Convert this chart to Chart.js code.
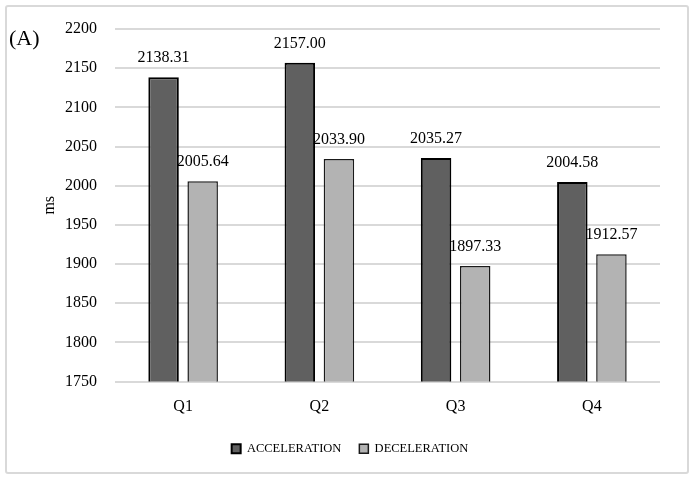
<!DOCTYPE html>
<html lang="en">
  <head>
    <meta charset="UTF-8" />
    <style>
      html, body { margin: 0; padding: 0; background: #fff; }
      #wrap { position: relative; width: 692px; height: 480px; }
      #frame {
        position: absolute; left: 5px; top: 5px; width: 680px; height: 465px;
        border: 2px solid #d9d9d9; border-radius: 3px; pointer-events: none;
      }
    </style>
  </head>
  <body>
    <div id="wrap">
      <canvas id="myChart" width="692" height="480"></canvas>
      <div id="frame"></div>
    </div>
    <script src="https://cdn.jsdelivr.net/npm/chart.js@4.4.0/dist/chart.umd.min.js"></script>

    <script>
      var categories = ["Q1", "Q2", "Q3", "Q4"];
      var acceleration = [2138.31, 2157.0, 2035.27, 2004.58];
      var deceleration = [2005.64, 2033.9, 1897.33, 1912.57];
      var yTicks = [1750, 1800, 1850, 1900, 1950, 2000, 2050, 2100, 2150, 2200];

      var serif = "'Liberation Serif', 'DejaVu Serif', serif";

      // value labels above bars, plus "(A)" and the "ms" axis title
      var extras = {
        id: "extras",
        afterLayout: function (chart) {
          // center the legend on the whole canvas, not just the padded box
          chart.legend.left = 8;
          chart.legend.right = 692;
          chart.legend.width = 684;
        },
        afterDatasetsDraw: function (chart) {
          var ctx = chart.ctx;
          ctx.save();
          ctx.fillStyle = "#000";
          ctx.font = "16px " + serif;
          ctx.textAlign = "center";
          ctx.textBaseline = "alphabetic";
          chart.data.datasets.forEach(function (ds, i) {
            chart.getDatasetMeta(i).data.forEach(function (bar, j) {
              ctx.fillText(ds.data[j].toFixed(2), bar.x, bar.y - 15);
            });
          });

          ctx.textAlign = "left";
          ctx.font = "22px " + serif;
          ctx.fillText("(A)", 9, 45);

          ctx.font = "16px " + serif;
          ctx.translate(54, (chart.chartArea.top + chart.chartArea.bottom) / 2);
          ctx.rotate(-Math.PI / 2);
          ctx.textAlign = "center";
          ctx.fillText("ms", 0, 0);
          ctx.restore();
        },
      };

      var ctx = document.getElementById("myChart").getContext("2d");
      var chart = new Chart(ctx, {
        type: "bar",
        data: {
          labels: categories,
          datasets: [
            {
              label: "ACCELERATION",
              data: acceleration,
              backgroundColor: "#606060",
              borderColor: "#000",
              borderWidth: 2,
            },
            {
              label: "DECELERATION",
              data: deceleration,
              backgroundColor: "#b3b3b3",
              borderColor: "#1a1a1a",
              borderWidth: 1.5,
            },
          ],
        },
        options: {
          responsive: false,
          animation: false,
          categoryPercentage: 0.574,
          barPercentage: 0.78,
          layout: { padding: { left: 0, right: 32, top: 29, bottom: 15 } },
          plugins: {
            tooltip: { enabled: false },
            legend: {
              position: "bottom",
              labels: {
                boxWidth: 9,
                boxHeight: 9,
                padding: 18,
                color: "#000",
                font: { family: serif, size: 12.5 },
              },
            },
          },
          scales: {
            x: {
              afterFit: function (s) { s.height = 43; },
              grid: { display: false, drawTicks: false },
              border: { display: false },
              ticks: { padding: 16, color: "#000", font: { family: serif, size: 16 } },
            },
            y: {
              min: 1750,
              max: 2200,
              afterFit: function (s) { s.width = 115; },
              afterBuildTicks: function (s) {
                s.ticks = yTicks.map(function (v) { return { value: v }; });
              },
              grid: { color: "#d9d9d9", lineWidth: 2, drawTicks: false },
              border: { display: false },
              ticks: {
                padding: 18,
                color: "#000",
                font: { family: serif, size: 16 },
                callback: function (v) { return String(v); },
              },
            },
          },
        },
        plugins: [extras],
      });
    </script>
  </body>
</html>
